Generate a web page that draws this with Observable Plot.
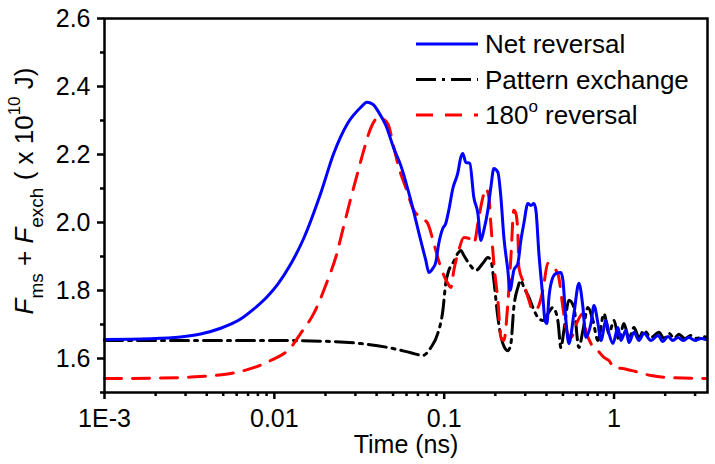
<!DOCTYPE html>
<html><head><meta charset="utf-8">
<script src="https://cdn.jsdelivr.net/npm/d3@7"></script>
<script src="https://cdn.jsdelivr.net/npm/@observablehq/plot@0.6"></script>
<style>
body{margin:0;background:#fff;}
#wrap{width:715px;height:464px;}
</style></head><body><div id="wrap"></div>
<script>
// ---- data (time in ns, energy in 1e10 J) ----
const netT = [0.001,0.00187,0.0028,0.00368,0.00483,0.00633,0.00755,0.00913,0.01046,0.01247,0.01488,0.01875,0.02236,0.02704,0.0323,0.035,0.038,0.0412,0.0453,0.0505,0.0555,0.0636,0.0728,0.0779,0.0812,0.0857,0.0892,0.0929,0.0982,0.1021,0.1064,0.1124,0.1202,0.1253,0.1287,0.134,0.1415,0.1494,0.1578,0.1644,0.1711,0.1807,0.1882,0.196,0.207,0.2157,0.2246,0.237,0.2438,0.257,0.2715,0.2828,0.2944,0.311,0.3239,0.3374,0.3467,0.361,0.381,0.392,0.4025,0.4136,0.4365,0.4548,0.4865,0.5,0.5208,0.5424,0.5805,0.621,0.656,0.6827,0.731,0.762,0.804,0.837,0.896,0.933,0.985,1.054,1.098,1.175,1.224,1.31,1.402,1.5,1.649,1.814,1.94,2.078,2.22,2.38,2.55,2.76,3.0,3.25,3.48];
const netV = [1.656,1.658,1.663,1.672,1.689,1.716,1.745,1.783,1.818,1.877,1.953,2.086,2.203,2.292,2.339,2.354,2.348,2.324,2.286,2.218,2.168,2.065,1.947,1.889,1.853,1.865,1.883,1.938,1.983,1.997,2.036,2.100,2.145,2.192,2.203,2.177,2.174,2.074,2.027,1.947,1.977,2.036,2.103,2.159,2.148,2.074,1.956,1.859,1.800,1.859,1.880,1.947,1.997,2.056,2.050,2.056,2.036,1.909,1.780,1.712,1.703,1.780,1.839,1.850,1.853,1.830,1.712,1.644,1.732,1.821,1.750,1.662,1.703,1.756,1.703,1.653,1.712,1.674,1.644,1.691,1.653,1.683,1.647,1.677,1.653,1.674,1.653,1.668,1.650,1.665,1.653,1.662,1.653,1.662,1.653,1.659,1.656];

const patT = [0.001,0.00368,0.0099,0.02147,0.0323,0.0472,0.0636,0.0748,0.0834,0.0917,0.0982,0.1021,0.1064,0.1124,0.1202,0.1253,0.1305,0.1397,0.1535,0.1689,0.1807,0.1882,0.196,0.207,0.2215,0.237,0.247,0.257,0.2715,0.2828,0.2944,0.3155,0.3327,0.3561,0.381,0.408,0.4365,0.4667,0.4865,0.507,0.5424,0.5805,0.621,0.656,0.702,0.751,0.804,0.872,0.933,1.0,1.07,1.143,1.224,1.31,1.402,1.5,1.649,1.839,1.97,2.11,2.25,2.41,2.61,2.84,3.08,3.34,3.48];
const patV = [1.653,1.653,1.653,1.650,1.644,1.632,1.617,1.609,1.632,1.674,1.741,1.821,1.859,1.880,1.909,1.918,1.903,1.880,1.859,1.880,1.897,1.889,1.830,1.721,1.644,1.623,1.644,1.750,1.809,1.830,1.809,1.780,1.750,1.721,1.712,1.732,1.750,1.712,1.632,1.683,1.771,1.750,1.632,1.683,1.750,1.712,1.653,1.732,1.674,1.712,1.653,1.703,1.659,1.691,1.662,1.683,1.662,1.677,1.659,1.674,1.659,1.671,1.659,1.668,1.659,1.665,1.662];

const revT = [0.001,0.00187,0.00368,0.00553,0.00755,0.0095,0.01247,0.01429,0.01704,0.0206,0.02297,0.0256,0.02818,0.03097,0.0336,0.0369,0.0412,0.0465,0.0505,0.054,0.0594,0.0662,0.0728,0.08,0.0869,0.0955,0.105,0.1094,0.1139,0.1218,0.1305,0.1397,0.1494,0.16,0.1689,0.1758,0.1832,0.1882,0.196,0.207,0.2157,0.2246,0.237,0.247,0.257,0.264,0.2715,0.2753,0.2944,0.3155,0.3327,0.3561,0.381,0.408,0.4365,0.4667,0.5,0.5208,0.557,0.6125,0.656,0.6827,0.731,0.804,0.872,0.933,1.0,1.098,1.258,1.649,2.078,3.48];
const revV = [1.541,1.542,1.547,1.556,1.573,1.594,1.632,1.674,1.732,1.830,1.897,1.989,2.071,2.147,2.212,2.277,2.309,2.291,2.221,2.162,2.103,2.036,2.015,1.997,1.938,1.868,1.821,1.809,1.859,1.918,1.956,1.953,1.938,2.015,2.074,2.100,2.074,1.997,1.880,1.771,1.662,1.653,1.762,1.897,2.036,2.027,1.968,1.868,1.821,1.771,1.741,1.750,1.800,1.880,1.868,1.850,1.750,1.691,1.662,1.712,1.732,1.683,1.644,1.623,1.603,1.594,1.573,1.571,1.565,1.550,1.544,1.541];

const seriesNames = ["Net reversal", "Pattern exchange", "180"];
const seriesColors = ["#0000ff", "#000000", "#ff0000"];
const seriesDash = [null, "18,6,3,6", "17,11"];

const xDomain = [0.001, 3.55];
const yDomain = [1.5, 2.6];
const xMajor = [0.001, 0.01, 0.1, 1];
const xTickLabels = ["1E-3", "0.01", "0.1", "1"];
const xMinor = [2,3,4,5,6,7,8,9].flatMap(m => [0.001,0.01,0.1].map(d => m*d)).concat([2,3]);
const yMajor = [1.6, 1.8, 2.0, 2.2, 2.4, 2.6];
const yTickLabels = ["1.6", "1.8", "2.0", "2.2", "2.4", "2.6"];
const yMinor = [1.5, 1.7, 1.9, 2.1, 2.3, 2.5];
const xLabel = "Time (ns)";

const toRows = (T, V) => T.map((t, i) => ({t, v: V[i]}));
const netRows = toRows(netT, netV);
const patRows = toRows(patT, patV);
const revRows = toRows(revT, revV);

const FONT = '"Liberation Sans", Arial, sans-serif';

const plot = Plot.plot({
  width: 715, height: 464,
  marginLeft: 104, marginRight: 8, marginTop: 18, marginBottom: 72,
  style: {fontFamily: FONT, fontSize: "25px", color: "#000", background: "#fff", overflow: "visible"},
  x: {type: "log", domain: xDomain, label: null},
  y: {domain: yDomain, label: null},
  marks: [
    Plot.line(patRows, {x: "t", y: "v", stroke: seriesColors[1], strokeWidth: 3, strokeDasharray: seriesDash[1], curve: "monotone-x"}),
    Plot.line(revRows, {x: "t", y: "v", stroke: seriesColors[2], strokeWidth: 3, strokeDasharray: seriesDash[2], curve: "monotone-x"}),
    Plot.line(netRows, {x: "t", y: "v", stroke: seriesColors[0], strokeWidth: 3, curve: "monotone-x"}),
    Plot.frame({stroke: "#000", strokeWidth: 2.5}),
    Plot.axisX({ticks: xMajor, tickFormat: d => xTickLabels[xMajor.indexOf(d)], tickSize: 7, tickPadding: 10, strokeWidth: 2.5, label: null, fill: "#000"}),
    Plot.axisX({ticks: xMinor, tickFormat: () => "", tickSize: 4, strokeWidth: 2.5, label: null}),
    Plot.axisY({ticks: yMajor, tickFormat: d => yTickLabels[yMajor.indexOf(d)], tickSize: 7, tickPadding: 7, strokeWidth: 2.5, label: null, fill: "#000"}),
    Plot.axisY({ticks: yMinor, tickFormat: () => "", tickSize: 4, strokeWidth: 2.5, label: null}),
    Plot.text([xLabel], {frameAnchor: "bottom", dy: 60, lineAnchor: "bottom", fontSize: 25, fill: "#000"})
  ]
});

document.getElementById("wrap").appendChild(plot);
const svg = d3.select(plot);

// y-axis label with italic F and sub/superscripts
const yl = svg.append("text")
  .attr("transform", "translate(33,191) rotate(-90)")
  .attr("text-anchor", "middle")
  .attr("fill", "#000")
  .style("font-family", FONT)
  .style("font-size", "26px");
yl.append("tspan").attr("font-style", "italic").text("F");
yl.append("tspan").attr("font-size", "19px").attr("dy", 10).text("ms");
yl.append("tspan").attr("dy", -10).text(" + ");
yl.append("tspan").attr("font-style", "italic").text("F");
yl.append("tspan").attr("font-size", "19px").attr("dy", 10).text("exch");
yl.append("tspan").attr("dy", -10).text(" ( x 10");
yl.append("tspan").attr("font-size", "17px").attr("dy", -13).text("10");
yl.append("tspan").attr("dy", 13).text(" J)");

// legend
const lg = svg.append("g").style("font-family", FONT).style("font-size", "26px").attr("text-anchor", "start");
const rowBase = [53, 88.5, 124];
seriesNames.forEach((name, i) => {
  const y = rowBase[i] - 9;
  lg.append("line").attr("x1", 416).attr("x2", 478).attr("y1", y).attr("y2", y)
    .attr("stroke", seriesColors[i]).attr("stroke-width", 3)
    .attr("stroke-dasharray", seriesDash[i] ? (i === 1 ? "20,6,3,6" : "17,12") : null);
  const t = lg.append("text").attr("x", 485).attr("y", rowBase[i]).attr("fill", "#000").attr("text-anchor", "start");
  if (i === 2) {
    t.append("tspan").text("180");
    t.append("tspan").attr("font-size", "17px").attr("dy", -12).text("o");
    t.append("tspan").attr("dy", 12).text(" reversal");
  } else {
    t.text(name);
  }
});
</script>
</body></html>
